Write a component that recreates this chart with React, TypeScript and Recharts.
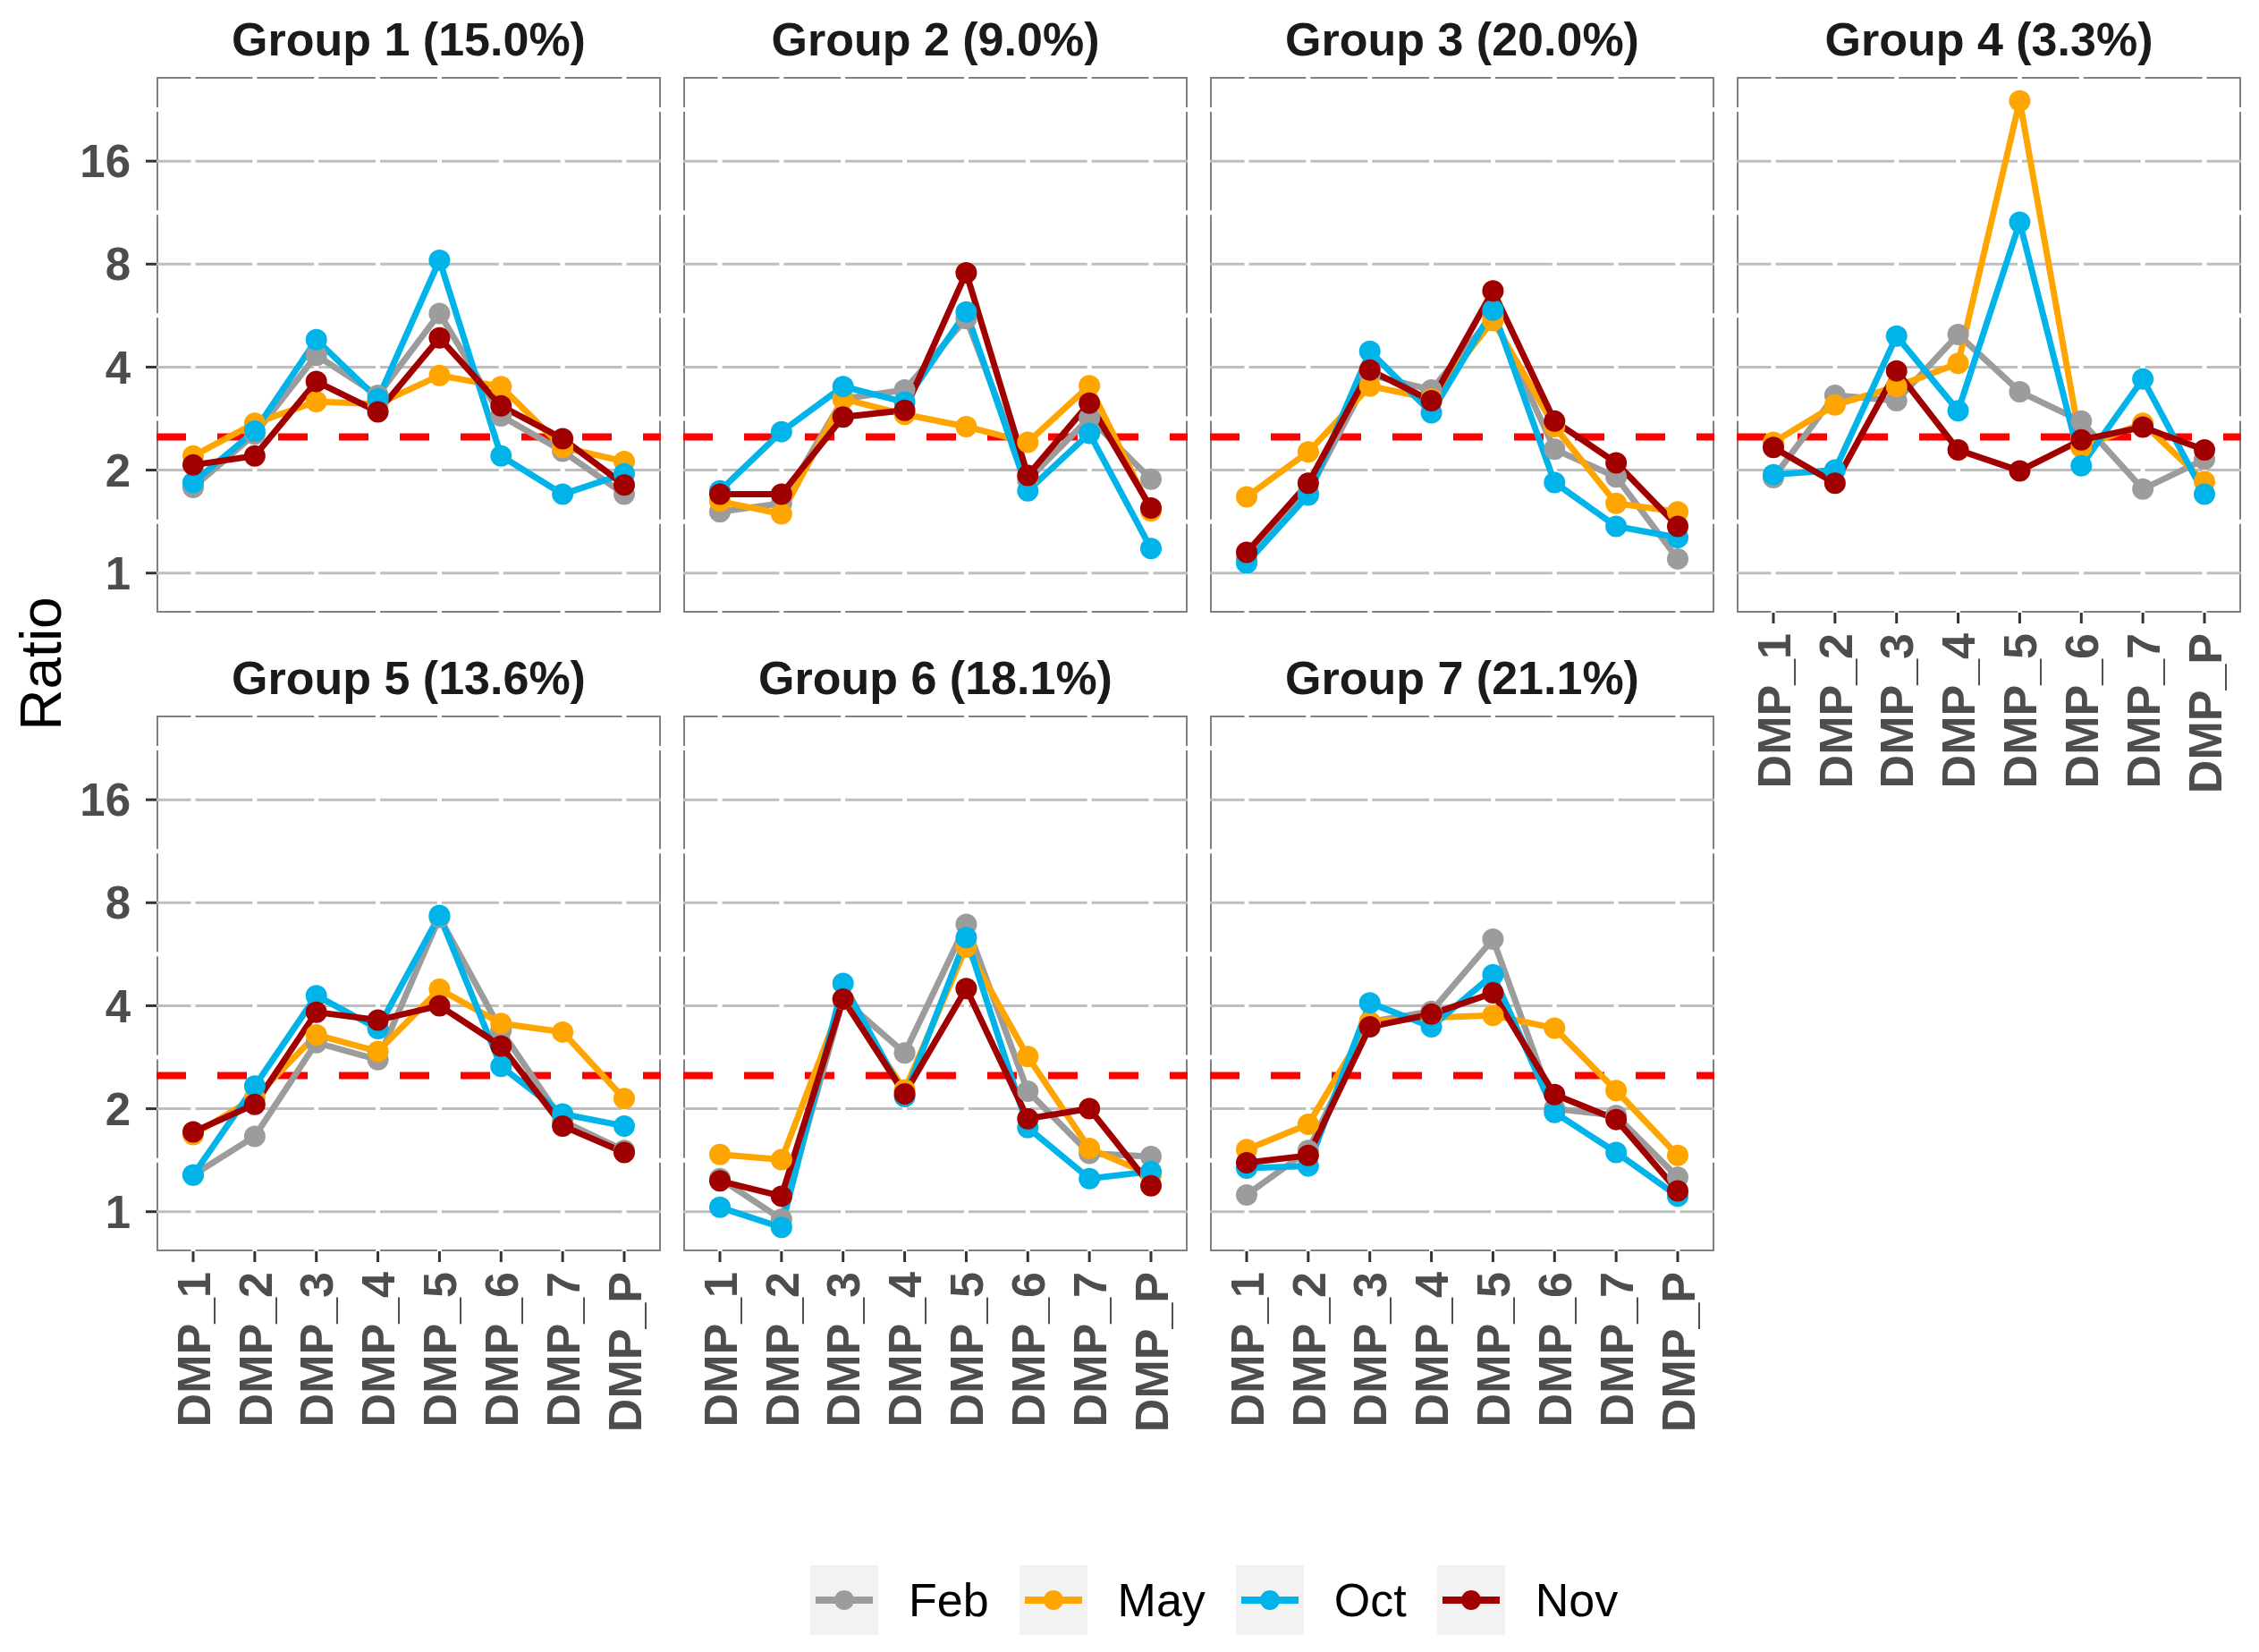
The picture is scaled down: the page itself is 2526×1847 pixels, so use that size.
import React from 'react'
import { LineChart, Line, XAxis, YAxis, CartesianGrid, ReferenceLine } from 'recharts'

// categories and series
const dmpLabels = ['DMP_1', 'DMP_2', 'DMP_3', 'DMP_4', 'DMP_5', 'DMP_6', 'DMP_7', 'DMP_P']
const months = ['Feb', 'May', 'Oct', 'Nov']
const monthColors = ['#9C9C9C', '#FFA500', '#00B4EA', '#A00000']
const yTicks = [1, 2, 4, 8, 16]
const yMinorTicks = [1.414, 2.828, 5.657, 11.31, 22.63]
const threshold = 2.5

const groupTitles = [
  'Group 1 (15.0%)', 'Group 2 (9.0%)', 'Group 3 (20.0%)', 'Group 4 (3.3%)',
  'Group 5 (13.6%)', 'Group 6 (18.1%)', 'Group 7 (21.1%)',
]

const group1 = {
  Feb: [1.78, 2.55, 4.33, 3.31, 5.74, 2.88, 2.27, 1.70],
  May: [2.2, 2.74, 3.17, 3.12, 3.78, 3.51, 2.33, 2.12],
  Oct: [1.84, 2.6, 4.81, 3.23, 8.21, 2.2, 1.70, 1.95],
  Nov: [2.07, 2.2, 3.63, 2.96, 4.87, 3.08, 2.47, 1.81],
}
const group2 = {
  Feb: [1.51, 1.60, 3.23, 3.43, 5.54, 1.87, 2.84, 1.88],
  May: [1.62, 1.49, 3.23, 2.91, 2.68, 2.41, 3.53, 1.52],
  Oct: [1.74, 2.59, 3.51, 3.16, 5.8, 1.74, 2.56, 1.18],
  Nov: [1.70, 1.70, 2.86, 2.99, 7.55, 1.93, 3.14, 1.55],
}
const group3 = {
  Feb: [1.10, 1.72, 3.8, 3.43, 5.67, 2.30, 1.91, 1.10],
  May: [1.67, 2.26, 3.52, 3.23, 5.47, 2.68, 1.60, 1.51],
  Oct: [1.07, 1.69, 4.45, 2.94, 5.87, 1.84, 1.37, 1.27],
  Nov: [1.15, 1.83, 3.92, 3.19, 6.68, 2.78, 2.10, 1.37],
}
const group4 = {
  Feb: [1.90, 3.31, 3.19, 4.98, 3.39, 2.78, 1.76, 2.15],
  May: [2.41, 3.10, 3.51, 4.10, 24.0, 2.33, 2.74, 1.85],
  Oct: [1.94, 2.0, 4.93, 2.98, 10.6, 2.06, 3.69, 1.70],
  Nov: [2.33, 1.83, 3.90, 2.29, 1.99, 2.45, 2.67, 2.29],
}
const group5 = {
  Feb: [1.28, 1.66, 3.12, 2.78, 7.25, 3.39, 1.84, 1.51],
  May: [1.68, 2.15, 3.29, 2.94, 4.47, 3.55, 3.35, 2.14],
  Oct: [1.28, 2.33, 4.28, 3.43, 7.34, 2.66, 1.93, 1.78],
  Nov: [1.71, 2.06, 3.83, 3.63, 4.0, 3.05, 1.78, 1.49],
}
const group6 = {
  Feb: [1.25, 0.95, 4.18, 2.91, 6.92, 2.25, 1.48, 1.45],
  May: [1.47, 1.42, 4.18, 2.27, 5.94, 2.84, 1.53, 1.28],
  Oct: [1.03, 0.90, 4.65, 2.17, 6.33, 1.76, 1.25, 1.31],
  Nov: [1.23, 1.11, 4.18, 2.21, 4.49, 1.87, 2.0, 1.19],
}
const group7 = {
  Feb: [1.12, 1.51, 3.59, 3.85, 6.26, 2.0, 1.91, 1.26],
  May: [1.52, 1.80, 3.59, 3.69, 3.75, 3.44, 2.26, 1.46],
  Oct: [1.34, 1.36, 4.08, 3.47, 4.93, 1.95, 1.49, 1.11],
  Nov: [1.39, 1.46, 3.47, 3.78, 4.36, 2.20, 1.86, 1.15],
}
const groups: Record<string, number[]>[] = [group1, group2, group3, group4, group5, group6, group7]

// layout
const FONT = '"Liberation Sans", Arial, sans-serif'
const PW = 564
const PH = 599
const COL_X = [175, 764, 1353, 1942]
const ROW_Y = [86, 800]
const LEFT = 180
const X_AXIS_H = 250

// keeps the axis ticks (and so the grid lines) without drawing a label
const NoTick = () => <g />

function DmpTick(props: any) {
  const { x, y, payload } = props
  return (
    <text
      x={x}
      y={y}
      transform={`rotate(-90, ${x}, ${y})`}
      textAnchor="end"
      dy="0.36em"
      fill="#4D4D4D"
      fontSize={52}
      fontWeight="bold"
      fontFamily={FONT}
    >
      {payload.value}
    </text>
  )
}

function Panel({ index }: { index: number }) {
  const px = COL_X[index % 4]
  const py = ROW_Y[Math.floor(index / 4)]
  const showY = index % 4 === 0
  const showX = index >= 3
  const series = groups[index]
  const rows = dmpLabels.map((d, i) => {
    const row: Record<string, any> = { dmp: d }
    months.forEach((m) => { row[m] = series[m][i] })
    return row
  })

  return (
    <>
      <div style={{
        position: 'absolute', left: px, top: py - 42 - 26, width: PW, height: 52,
        lineHeight: '52px', textAlign: 'center', fontFamily: FONT, fontWeight: 'bold',
        fontSize: 52, color: '#1A1A1A', whiteSpace: 'nowrap',
      }}>
        {groupTitles[index]}
      </div>
      <div style={{
        position: 'absolute', left: px, top: py, width: PW, height: PH,
        border: '2.6px solid #808080', boxSizing: 'border-box',
      }} />
      <div style={{ position: 'absolute', left: px - LEFT, top: py - 10 }}>
        <LineChart width={LEFT + PW + 20} height={10 + PH + X_AXIS_H} data={rows}
          margin={{ top: 10, right: 20, bottom: 0, left: 10 }}>
          <CartesianGrid vertical={false} syncWithTicks stroke="#BEBEBE" strokeWidth={3}
            horizontalValues={yTicks} />
          <CartesianGrid syncWithTicks stroke="#FFFFFF" strokeWidth={5} horizontalValues={yMinorTicks} />
          <XAxis
            dataKey="dmp"
            interval={0}
            padding={{ left: 41, right: 41 }}
            height={X_AXIS_H}
            axisLine={false}
            tickSize={12}
            tickMargin={11}
            tickLine={showX ? { stroke: '#333333', strokeWidth: 3 } : false}
            tick={showX ? <DmpTick /> : <NoTick />}
          />
          <YAxis
            type="number"
            scale="log"
            domain={[0.766, 28.2]}
            allowDataOverflow
            ticks={yTicks}
            interval={0}
            width={170}
            axisLine={false}
            tickSize={12}
            tickMargin={17}
            tickLine={showY ? { stroke: '#333333', strokeWidth: 3 } : false}
            tick={showY ? { fill: '#4D4D4D', fontSize: 51, fontWeight: 'bold', fontFamily: FONT } : <NoTick />}
          />
          <ReferenceLine y={threshold} stroke="#FF0000" strokeWidth={8} strokeDasharray="33 35" />
          {months.map((m, i) => (
            <Line key={m} dataKey={m} stroke={monthColors[i]} strokeWidth={7}
              dot={false} activeDot={false} isAnimationActive={false} />
          ))}
          {months.map((m, i) => (
            <Line key={m + '-pts'} dataKey={m} stroke="none" legendType="none"
              dot={{ r: 12, fill: monthColors[i], stroke: 'none' }}
              activeDot={false} isAnimationActive={false} />
          ))}
        </LineChart>
      </div>
    </>
  )
}

function LegendKey({ color }: { color: string }) {
  return (
    <div style={{ width: 76, height: 78, background: '#F2F2F2' }}>
      <svg width={76} height={78}>
        <line x1={6} x2={70} y1={39} y2={39} stroke={color} strokeWidth={8} />
        <circle cx={38} cy={39} r={11} fill={color} />
      </svg>
    </div>
  )
}

export default function App() {
  return (
    <div style={{
      position: 'absolute', left: 0, top: 0, width: 2526, height: 1847,
      background: '#FFFFFF', overflow: 'hidden',
    }}>
      {groups.map((_, i) => <Panel key={i} index={i} />)}
      <div style={{
        position: 'absolute', left: 46 - 150, top: 742 - 32, width: 300, height: 64,
        lineHeight: '64px', textAlign: 'center', fontFamily: FONT, fontSize: 64,
        color: '#000000', transform: 'rotate(-90deg)',
      }}>
        Ratio
      </div>
      <div style={{
        position: 'absolute', left: 906, top: 1750, display: 'flex', alignItems: 'center',
        fontFamily: FONT, fontSize: 52, color: '#000000',
      }}>
        {months.map((m, i) => (
          <React.Fragment key={m}>
            <LegendKey color={monthColors[i]} />
            <span style={{ marginLeft: 34, marginRight: 34, lineHeight: '78px' }}>{m}</span>
          </React.Fragment>
        ))}
      </div>
    </div>
  )
}
